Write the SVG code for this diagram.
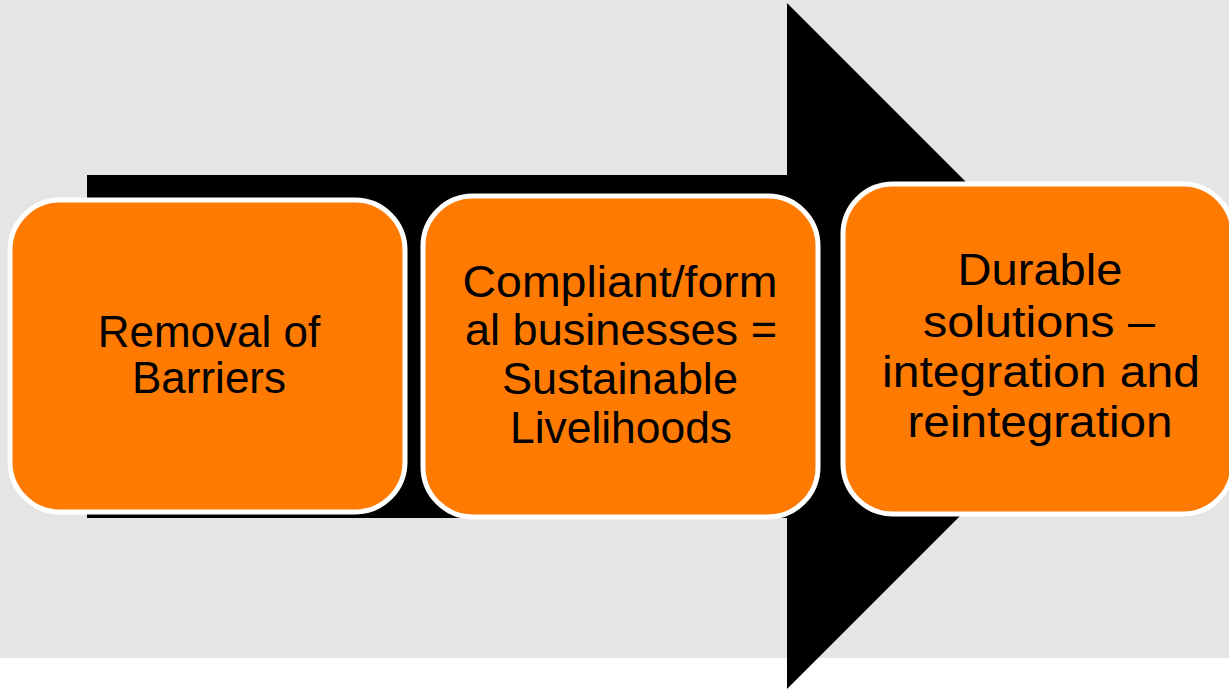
<svg xmlns="http://www.w3.org/2000/svg" width="1229" height="689" viewBox="0 0 1229 689">
<style>
.box{fill:#FF7A00;stroke:#FFFFFF;stroke-width:5}
.lbl{font-family:"Liberation Sans",Arial,sans-serif;font-size:44px;fill:#000;text-anchor:middle}
</style>
<rect x="0" y="0" width="1229" height="689" fill="#FFFFFF"/>
<rect x="0" y="0" width="1229" height="658" fill="#E5E5E5"/>
<g id="connectors">
<polygon points="87,175 787,175 787,3 1130,346 787,689 787,518 87,518" fill="#000000"/>
</g>
<g id="node1">
<rect class="box" x="10" y="200" width="395" height="312" rx="50" ry="50"/>
<text class="lbl" x="209" y="347">Removal of</text>
<text class="lbl" x="209" y="393">Barriers</text>
</g>
<g id="node2">
<rect class="box" x="423" y="196" width="395" height="321" rx="50" ry="50"/>
<text class="lbl" x="620" y="297" textLength="315" lengthAdjust="spacingAndGlyphs">Compliant/form</text>
<text class="lbl" x="621" y="345" textLength="312" lengthAdjust="spacingAndGlyphs">al businesses =</text>
<text class="lbl" x="620" y="394" textLength="236" lengthAdjust="spacingAndGlyphs">Sustainable</text>
<text class="lbl" x="621" y="443" textLength="222" lengthAdjust="spacingAndGlyphs">Livelihoods</text>
</g>
<g id="node3">
<rect class="box" x="843" y="184" width="390" height="330" rx="50" ry="50"/>
<text class="lbl" x="1040" y="285" textLength="165" lengthAdjust="spacingAndGlyphs">Durable</text>
<text class="lbl" x="1039" y="337" textLength="232" lengthAdjust="spacingAndGlyphs">solutions –</text>
<text class="lbl" x="1041" y="387" textLength="318" lengthAdjust="spacingAndGlyphs">integration and</text>
<text class="lbl" x="1040" y="437" textLength="265" lengthAdjust="spacingAndGlyphs">reintegration</text>
</g>
</svg>
